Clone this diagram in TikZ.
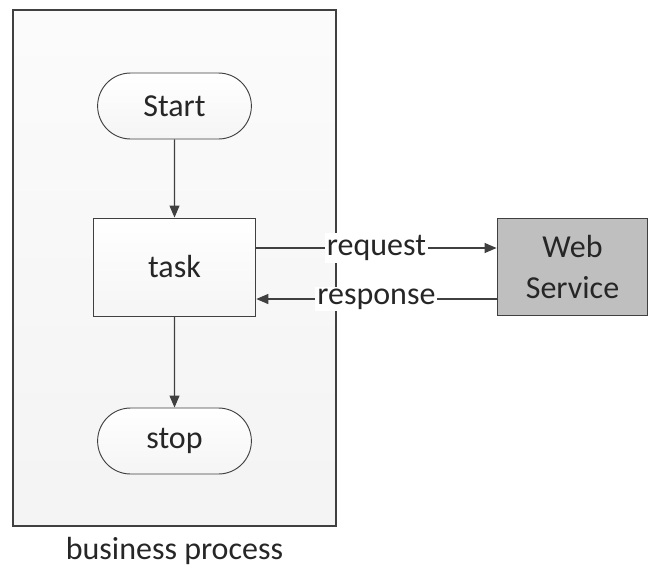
\documentclass[tikz,border=0pt]{standalone}
\usepackage{fontspec}
\setmainfont{Carlito}
\usepackage{tikz}
\usetikzlibrary{arrows.meta,positioning,shapes.misc}
\usepackage{xcolor}
\definecolor{linegray}{HTML}{404040}
\definecolor{servicegray}{HTML}{BFBFBF}
\definecolor{textgray}{HTML}{262626}

\begin{document}
\begin{tikzpicture}[x=0.75pt, y=-0.75pt, node distance=120.75pt,
    font=\fontsize{24}{31}\selectfont, text=textgray, >={Triangle[length=9pt, width=7.5pt]}]
    \useasboundingbox (0,0) rectangle (649,568);

    \node[draw=linegray, line width=0.9pt, rectangle, minimum width=242.25pt, minimum height=387pt, top color=gray!3, bottom color=gray!9] (process) at (174.5,268) {};
    
    \node[draw=linegray, line width=0.7pt, rounded rectangle, minimum width=122pt, minimum height=49.5pt, top color=white, bottom color=gray!8] (start) at (174.5,106) {Start};
    
    \node[draw=linegray, line width=0.7pt, rectangle, minimum width=122pt, minimum height=73.5pt, top color=white, bottom color=gray!8, below of=start] (task) {task};
    
    \node[draw=linegray, line width=0.7pt, rounded rectangle, minimum width=122pt, minimum height=49.5pt, top color=white, bottom color=gray!8, below of=task, node distance=130.5pt] (stop) {stop};
    
    \node[draw=linegray, line width=0.9pt, rectangle, minimum width=113pt, minimum height=73pt, fill=servicegray, align=center, right of=task, node distance=298.5pt] (service) {Web\\Service};
    
    \draw[->, linegray, line width=0.9pt] (start) -- (task);
    \draw[->, linegray, line width=0.9pt] (task) -- (stop);
    \draw[->, linegray, line width=0.9pt] ([yshift=14.25pt]task.east) -- node[fill=white, text=textgray, inner sep=1.5pt] {request} ([yshift=14.25pt]task.east -| service.west);
    \draw[->, linegray, line width=0.9pt] ([yshift=-24pt]task.east -| service.west) -- node[fill=white, text=textgray, inner sep=1.5pt] {response} ([yshift=-24pt]task.east);
    
    \node (caption) at (174.5,551) {business process};
\end{tikzpicture}
\end{document}
